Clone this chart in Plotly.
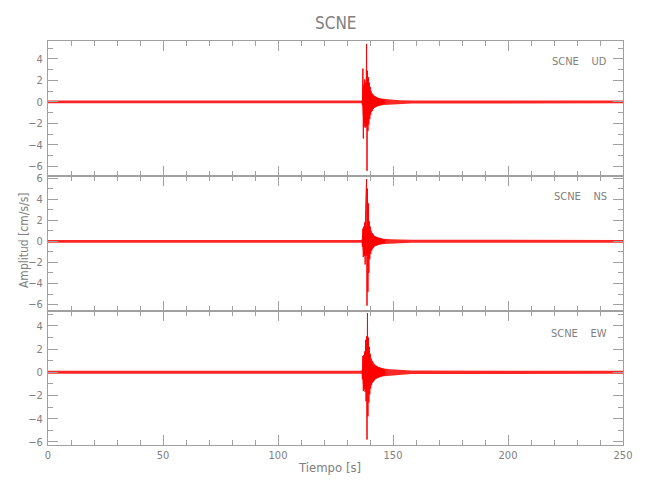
import plotly.graph_objects as go

# ---------------- data ----------------
station = "SCNE"
components = ["UD", "NS", "EW"]

# background / coda envelope of each trace (time in s, amplitude in cm/s/s)
env_t = [0, 136.6, 136.9, 137.5, 138.5, 139.5, 140.8, 142.0, 144.0, 146.0, 149, 153, 158, 250]
ud_upper = [0.13, 0.13, 1.1, 1.8, 1.8, 1.2, 0.7, 0.45, 0.35, 0.28, 0.22, 0.17, 0.14, 0.13]
ud_lower = [-0.13, -0.13, -1.3, -2.3, -2.3, -1.5, -0.8, -0.45, -0.35, -0.28, -0.22, -0.17, -0.14, -0.13]
ns_upper = [0.13, 0.13, 0.9, 1.5, 1.5, 1.1, 0.7, 0.45, 0.32, 0.25, 0.2, 0.16, 0.14, 0.13]
ns_lower = [-0.13, -0.13, -0.9, -1.4, -1.4, -1.1, -0.7, -0.45, -0.32, -0.25, -0.2, -0.16, -0.14, -0.13]
ew_upper = [0.13, 0.13, 1.0, 1.6, 1.6, 1.2, 0.8, 0.55, 0.42, 0.33, 0.26, 0.2, 0.15, 0.13]
ew_lower = [-0.13, -0.13, -1.0, -1.5, -1.5, -1.2, -0.8, -0.55, -0.42, -0.33, -0.26, -0.2, -0.15, -0.13]

# strong-motion burst samples (every 0.2 s from 136.5 s)
burst_t = [136.5, 136.7, 136.9, 137.1, 137.3, 137.5, 137.7, 137.9, 138.1, 138.3,
           138.5, 138.7, 138.9, 139.1, 139.3, 139.5, 139.7, 139.9, 140.1, 140.3,
           140.5, 140.7, 140.9, 141.1, 141.3, 141.5, 141.7, 141.9, 142.1, 142.3,
           142.5, 142.7, 142.9, 143.1, 143.3, 143.5, 143.7, 143.9, 144.1, 144.3,
           144.5, 144.7, 144.9, 145.1, 145.3, 145.5, 145.7, 145.9, 146.1, 146.3, 146.5]
ud_burst = [0.1, -0.3, 3.1, -3.4, 1.6, -1.9, 2.1, -2.4, 1.8, -2.2,
            5.4, -6.4, 2.9, -2.7, 2.3, -2.1, 1.8, -1.6, 1.4, -1.2,
            1.0, -0.9, 0.8, -0.8, 0.7, -0.65, 0.6, -0.55, 0.55, -0.5,
            0.5, -0.45, 0.45, -0.4, 0.4, -0.38, 0.35, -0.35, 0.32, -0.3,
            0.3, -0.28, 0.27, -0.25, 0.25, -0.22, 0.22, -0.2, 0.2, -0.18, 0.15]
ns_burst = [0.2, -0.5, 1.2, -1.5, 1.4, -1.3, 1.8, -2.2, 3.0, 4.8,
            5.9, -6.1, 5.0, -4.8, 3.6, -3.0, 1.9, -1.7, 1.4, -1.2,
            1.0, -0.9, 0.8, -0.75, 0.7, -0.6, 0.55, -0.5, 0.5, -0.45,
            0.45, -0.4, 0.4, -0.38, 0.35, -0.33, 0.32, -0.3, 0.28, -0.27,
            0.26, -0.25, 0.24, -0.22, 0.22, -0.2, 0.2, -0.18, 0.18, -0.17, 0.15]
ew_burst = [0.2, -0.6, 1.4, -1.6, 1.5, -1.4, 1.8, -1.7, 2.8, -2.5,
            3.1, -5.8, 5.1, -3.8, 3.0, -2.6, 2.2, -1.9, 1.6, -1.4,
            1.2, -1.1, 1.0, -0.9, 0.85, -0.8, 0.75, -0.7, 0.65, -0.6,
            0.6, -0.55, 0.55, -0.5, 0.5, -0.48, 0.45, -0.43, 0.42, -0.4,
            0.38, -0.36, 0.35, -0.33, 0.32, -0.3, 0.3, -0.28, 0.27, -0.25, 0.24]

y_ranges = [[-6.88, 5.67], [-6.6, 6.2], [-6.27, 5.3]]
x_range = [0, 250]

uppers = [ud_upper, ns_upper, ew_upper]
lowers = [ud_lower, ns_lower, ew_lower]
bursts = [ud_burst, ns_burst, ew_burst]

# ---------------- figure ----------------
RED = "#ff0000"
AX = "#a0a0a0"
TXT = "#808080"
FONT = "DejaVu Sans Condensed, Roboto, sans-serif"

fig = go.Figure()
for i in range(3):
    xa = "x" if i == 0 else f"x{i+1}"
    ya = "y" if i == 0 else f"y{i+1}"
    fig.add_trace(go.Scatter(
        x=env_t + env_t[::-1], y=uppers[i] + lowers[i][::-1],
        fill="toself", fillcolor="rgba(255,0,0,0.85)", mode="lines",
        line=dict(color="rgba(255,0,0,0)", width=0),
        xaxis=xa, yaxis=ya, showlegend=False, hoverinfo="skip"))
    fig.add_trace(go.Scatter(
        x=burst_t, y=bursts[i], mode="lines",
        line=dict(color=RED, width=1),
        xaxis=xa, yaxis=ya, showlegend=False))

domains = [[0.666, 1.0], [0.332, 0.666], [0.0, 0.332]]
common = dict(showline=True, linecolor=AX, linewidth=1, mirror="allticks",
              ticks="inside", tickcolor=AX, showgrid=False, zeroline=False,
              tickfont=dict(family=FONT, size=11, color=TXT))
layout = {}
for i in range(3):
    xk = "xaxis" if i == 0 else f"xaxis{i+1}"
    yk = "yaxis" if i == 0 else f"yaxis{i+1}"
    ya = "y" if i == 0 else f"y{i+1}"
    layout[xk] = dict(common, domain=[0, 1], anchor=ya, range=x_range,
                      dtick=50, ticklen=10,
                      minor=dict(ticks="inside", dtick=10, ticklen=5, tickcolor=AX),
                      showticklabels=(i == 2))
    layout[yk] = dict(common, domain=domains[i], range=y_ranges[i],
                      dtick=2, ticklen=10, ticklabelstandoff=2,
                      minor=dict(ticks="inside", dtick=1, ticklen=5, tickcolor=AX))
fig.update_layout(**layout)

annotations = [
    dict(text=station, x=0.5, y=1.045, xref="paper", yref="paper", showarrow=False,
         xanchor="center", yanchor="middle",
         font=dict(family=FONT, size=17, color=TXT)),
    dict(text="Tiempo [s]", x=0.49, y=-0.055, xref="paper", yref="paper",
         xanchor="center", yanchor="middle",
         showarrow=False, font=dict(family=FONT, size=13, color=TXT)),
    dict(text="Amplitud [cm/s/s]", x=-0.042, y=0.507, xref="paper", yref="paper",
         xanchor="center", yanchor="middle",
         textangle=-90, showarrow=False, font=dict(family=FONT, size=12, color=TXT)),
]
label_y = [0.950, 0.614, 0.277]
for i, comp in enumerate(components):
    annotations.append(dict(text=station + "\u00a0\u00a0\u00a0\u00a0" + comp,
                            x=0.975, y=label_y[i], xref="paper", yref="paper",
                            xanchor="right", yanchor="middle", showarrow=False,
                            font=dict(family=FONT, size=11, color=TXT)))

fig.update_layout(width=650, height=500, margin=dict(l=40, r=35, t=33, b=63),
                  paper_bgcolor="white", plot_bgcolor="white",
                  annotations=annotations)

fig.write_html("out.html")
